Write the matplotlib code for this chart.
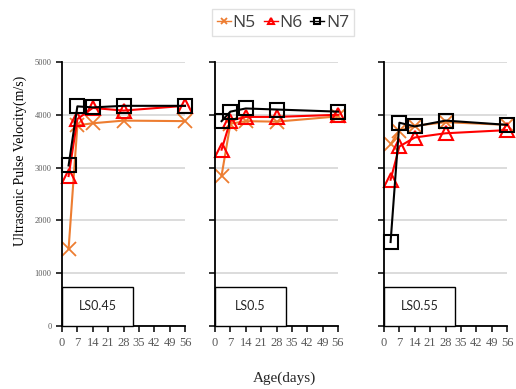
import matplotlib
matplotlib.use("Agg")
import matplotlib.pyplot as plt
from matplotlib.patches import Rectangle

AGES = [3, 7, 14, 28, 56]
PANELS = ["LS0.45", "LS0.5", "LS0.55"]
SERIES = ["N5", "N6", "N7"]

# velocity (m/s) per panel, per series
N5 = [
    [1460, 3800, 3840, 3890, 3880],
    [2850, 3830, 3880, 3870, 3970],
    [3440, 3700, 3790, 3860, 3810],
]
N6 = [
    [2840, 3920, 4130, 4080, 4170],
    [3340, 3890, 3960, 3960, 4000],
    [2770, 3400, 3570, 3650, 3710],
]
N7 = [
    [3040, 4160, 4140, 4170, 4170],
    [3880, 4060, 4120, 4100, 4060],
    [1590, 3850, 3780, 3890, 3810],
]

XTICKS = [0, 7, 14, 21, 28, 35, 42, 49, 56]
YTICKS = [0, 1000, 2000, 3000, 4000, 5000]

styles = {
    "N5": dict(color="#ED7D31", marker="x", markersize=9.5, markeredgewidth=1.3,
               linewidth=1.5),
    "N6": dict(color="#FF0000", marker="^", markersize=10, markeredgewidth=1.5,
               markerfacecolor="none", linewidth=1.5),
    "N7": dict(color="#000000", marker="s", markersize=10, markeredgewidth=1.5,
               markerfacecolor="none", linewidth=1.5),
}

if __name__ == "__main__":
    fig = plt.figure(figsize=(5.16, 3.89), dpi=100)
    lefts = [62, 215, 384]
    width = 123
    bottom, height = 63 / 389, 264 / 389
    tick_gray = "#595959"

    handles = []
    for i, name in enumerate(PANELS):
        ax = fig.add_axes([lefts[i] / 516, bottom, width / 516, height])
        ax.set_xlim(0, 56)
        ax.set_ylim(0, 5000)
        for sname, data in zip(SERIES, [N5, N6, N7]):
            (ln,) = ax.plot(AGES, data[i], label=sname, clip_on=False,
                            **styles[sname])
            if i == 0:
                handles.append(ln)
        ax.set_xticks(XTICKS)
        ax.set_yticks(YTICKS)
        ax.yaxis.grid(True, color="#d9d9d9", linewidth=1.3)
        ax.set_axisbelow(True)
        for s in ["top", "right"]:
            ax.spines[s].set_visible(False)
        ax.spines["left"].set_linewidth(1.3)
        ax.spines["bottom"].set_linewidth(1.3)
        ax.tick_params(direction="out", length=4, width=1.1, colors="black",
                       labelcolor=tick_gray)
        ax.tick_params(axis="x", pad=4)
        for lab in ax.get_xticklabels():
            lab.set_fontfamily("Liberation Serif")
            lab.set_fontsize(9)
        if i == 0:
            for lab in ax.get_yticklabels():
                lab.set_fontfamily("Liberation Serif")
                lab.set_fontsize(6)
        else:
            ax.set_yticklabels([])
        ax.add_patch(Rectangle((0, 0), 71 / width, 39 / 264,
                               transform=ax.transAxes, facecolor="white",
                               edgecolor="black", linewidth=1.0, zorder=5,
                               clip_on=False))
        ax.text(35.5 / width, 19.5 / 264, name, transform=ax.transAxes,
                ha="center", va="center", fontsize=9, family="Lato",
                color="#262626", zorder=6)

    fig.text(20 / 516, 1 - 161 / 389, "Ultrasonic Pulse Velocity(m/s)",
             rotation=90, ha="center", va="center", fontsize=10,
             family="Liberation Serif")
    fig.text(284 / 516, 1 - 378 / 389, "Age(days)", ha="center",
             va="center", fontsize=11, family="Liberation Serif",
             color="#262626")

    leg = fig.legend(handles, SERIES, loc="center", ncol=3,
                     bbox_to_anchor=(283 / 516, 1 - 22.5 / 389),
                     handlelength=0.8, handletextpad=0.1, columnspacing=0.45,
                     borderpad=0.3, fancybox=False, markerscale=0.5,
                     prop=dict(family="Open Sans", size=12.5))
    leg.get_frame().set_edgecolor("#d9d9d9")
    for t in leg.get_texts():
        t.set_color("#404040")
    for h in leg.legend_handles:
        h.set_linewidth(1.0)

    fig.savefig("out.png", dpi=100)
